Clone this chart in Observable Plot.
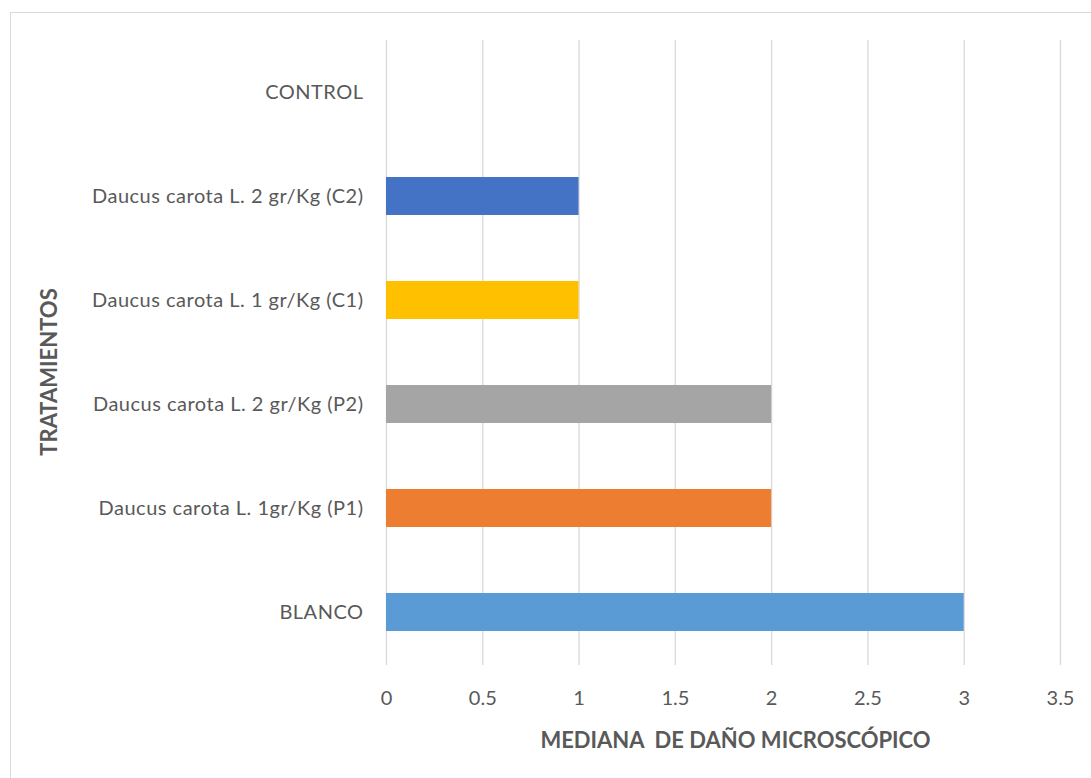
<!DOCTYPE html>
<html>
<head>
<meta charset="utf-8">
<script src="https://cdn.jsdelivr.net/npm/d3@7"></script>
<script src="https://cdn.jsdelivr.net/npm/@observablehq/plot@0.6"></script>
<style>
  html, body { margin: 0; padding: 0; background: #fff; }
  #wrap { position: relative; width: 1091px; height: 778px; overflow: hidden; }
  #frame { position: absolute; left: 10px; top: 12px; width: 1200px; height: 900px; border: 1.5px solid #d9d9d9; box-sizing: border-box; }
  #chart { position: absolute; left: 0; top: 0; }
  #chart g[aria-label="y-axis tick label"] text { letter-spacing: 0.5px; }
</style>
</head>
<body>
<div id="wrap"><div id="frame"></div><div id="chart"></div></div>
<script>
const categories = [
  "CONTROL",
  "Daucus carota L. 2 gr/Kg (C2)",
  "Daucus carota L. 1 gr/Kg (C1)",
  "Daucus carota L. 2 gr/Kg (P2)",
  "Daucus carota L. 1gr/Kg (P1)",
  "BLANCO"
];
const values = [0, 1, 1, 2, 2, 3];
const barColors = ["#4472C4", "#4472C4", "#FFC000", "#A5A5A5", "#ED7D31", "#5B9BD5"];
const xTicks = [0, 0.5, 1, 1.5, 2, 2.5, 3, 3.5];
const xTitle = "MEDIANA  DE DAÑO MICROSCÓPICO";
const yTitle = "TRATAMIENTOS";

const data = categories.map((c, i) => ({category: c, value: values[i]}));
const textColor = "#595959";
const font = "Lato, 'Open Sans', sans-serif";

const chart = Plot.plot({
  width: 1091,
  height: 778,
  marginLeft: 386,
  marginRight: 31,
  marginTop: 40,
  marginBottom: 113,
  style: {fontFamily: font, color: textColor, background: "transparent"},
  x: {domain: [0, 3.5]},
  y: {domain: categories, paddingInner: 0.63, paddingOuter: 0.315},
  color: {domain: categories, range: barColors},
  marks: [
    Plot.gridX(xTicks, {stroke: "#d9d9d9", strokeOpacity: 1, strokeWidth: 1.3}),
    Plot.barX(data, {x: "value", y: "category", fill: "category"}),
    Plot.axisX(xTicks, {tickSize: 0, tickPadding: 25, fontSize: 20, fill: textColor, label: null, tickFormat: d => String(d)}),
    Plot.axisY({tickSize: 0, tickPadding: 23, fontSize: 20, fill: textColor, label: null}),
    Plot.text([xTitle], {frameAnchor: "bottom", dx: 12, dy: 82, fontSize: 22, fontWeight: "bold", fill: textColor}),
    Plot.text([yTitle], {frameAnchor: "left", textAnchor: "middle", dx: -337, dy: 19, rotate: -90, fontSize: 22, fontWeight: "bold", fill: textColor})
  ]
});
document.getElementById("chart").appendChild(chart);
</script>
</body>
</html>
